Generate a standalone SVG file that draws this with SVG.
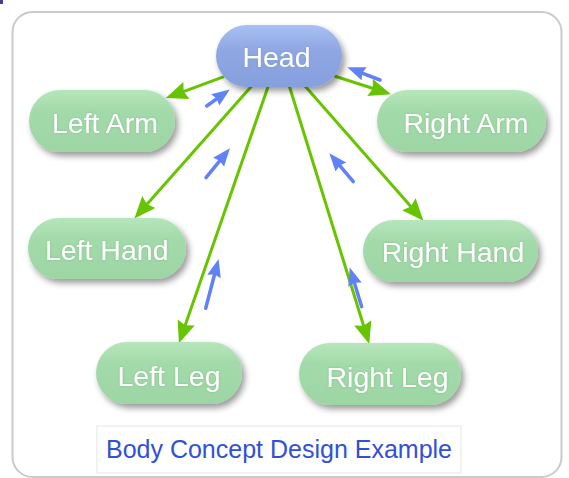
<svg xmlns="http://www.w3.org/2000/svg" width="569" height="478" viewBox="0 0 569 478">
  <defs>
    <linearGradient id="gGreen" x1="0" y1="0" x2="0" y2="1">
      <stop offset="0" stop-color="#b6e6bc"/>
      <stop offset="0.35" stop-color="#a3daa9"/>
      <stop offset="1" stop-color="#9dd5a4"/>
    </linearGradient>
    <linearGradient id="gBlue" x1="0" y1="0" x2="0" y2="1">
      <stop offset="0" stop-color="#a9bff4"/>
      <stop offset="0.4" stop-color="#8fa8e4"/>
      <stop offset="1" stop-color="#86a0dd"/>
    </linearGradient>
    <filter id="shadow" x="-20%" y="-30%" width="150%" height="170%">
      <feDropShadow dx="3" dy="4" stdDeviation="3" flood-color="#000" flood-opacity="0.4"/>
    </filter>
    <filter id="glow" x="-10%" y="-30%" width="120%" height="160%">
      <feDropShadow dx="0" dy="0" stdDeviation="1" flood-color="#4a8a55" flood-opacity="0.35"/>
    </filter>
    <marker id="arrowGreen" markerUnits="userSpaceOnUse" markerWidth="24" markerHeight="20" refX="9" refY="9" orient="auto">
      <path d="M0,0 L22,9 L0,18 L3,9 z" fill="#68c400"/>
    </marker>
    <marker id="arrowBlue" markerUnits="userSpaceOnUse" markerWidth="20" markerHeight="16" refX="7" refY="7" orient="auto">
      <path d="M0,0 L18,7 L0,14 L2,7 z" fill="#6181f7"/>
    </marker>
    <style>
      .frame { fill: #ffffff; stroke: #cacaca; stroke-width: 2; }
      .node { fill: url(#gGreen); filter: url(#shadow); }
      .root { fill: url(#gBlue); filter: url(#shadow); }
      .label { font-family: "Liberation Sans", Arial, sans-serif; font-size: 28.5px; fill: #ffffff; text-anchor: middle; filter: url(#glow); }
      .edge { fill: none; stroke: #68c400; stroke-width: 3; marker-end: url(#arrowGreen); }
      .flow { fill: none; stroke: #6181f7; stroke-width: 3.5; stroke-linecap: round; marker-end: url(#arrowBlue); }
      .caption { font-family: "Liberation Sans", Arial, sans-serif; font-size: 25px; fill: #3050d8; text-anchor: middle; }
    </style>
  </defs>

  <rect x="0" y="0" width="3" height="4" fill="#4c3a86"/>

  <!-- outer panel -->
  <rect class="frame" x="12.5" y="12" width="549" height="465" rx="20"/>

  <!-- connectors -->
  <g id="connectors">
    <path class="edge" d="M224,76.7 L178,93.6"/>
    <path class="edge" d="M334.3,76 L378.6,90.3"/>
    <path class="edge" d="M251.7,86 L143,208.7"/>
    <path class="edge" d="M305,86 L414.8,211"/>
    <path class="edge" d="M268.3,86 L183.2,331"/>
    <path class="edge" d="M289.3,86 L365.4,331.5"/>

    <path class="flow" d="M206.7,106 L220.9,95.8"/>
    <path class="flow" d="M380,80 L357.6,71.3"/>
    <path class="flow" d="M206,177.7 L223,156.8"/>
    <path class="flow" d="M353.3,181.7 L336.4,161.7"/>
    <path class="flow" d="M205.7,308.3 L215.8,269.7"/>
    <path class="flow" d="M361.7,306.7 L352.9,277.9"/>
  </g>

  <!-- nodes -->
  <g id="head">
    <rect class="root" x="216" y="25" width="126" height="62" rx="31"/>
    <text class="label" x="276.5" y="67">Head</text>
  </g>
  <g id="left-arm">
    <rect class="node" x="29" y="90" width="146" height="62" rx="31"/>
    <text class="label" x="105" y="133">Left Arm</text>
  </g>
  <g id="right-arm">
    <rect class="node" x="377" y="90" width="169" height="62" rx="31"/>
    <text class="label" x="466" y="133">Right Arm</text>
  </g>
  <g id="left-hand">
    <rect class="node" x="28" y="218" width="158" height="61" rx="30.5"/>
    <text class="label" x="106.7" y="260">Left Hand</text>
  </g>
  <g id="right-hand">
    <rect class="node" x="363" y="220" width="175" height="62" rx="31"/>
    <text class="label" x="453" y="262">Right Hand</text>
  </g>
  <g id="left-leg">
    <rect class="node" x="96" y="342" width="146" height="62" rx="31"/>
    <text class="label" x="169" y="386">Left Leg</text>
  </g>
  <g id="right-leg">
    <rect class="node" x="299" y="343" width="162" height="62" rx="31"/>
    <text class="label" x="387.5" y="387">Right Leg</text>
  </g>

  <!-- caption -->
  <g id="caption">
    <rect x="97" y="426" width="364" height="47" fill="#ffffff" stroke="#e6e6e6" stroke-width="1"/>
    <text class="caption" x="279" y="458">Body Concept Design Example</text>
  </g>
</svg>
